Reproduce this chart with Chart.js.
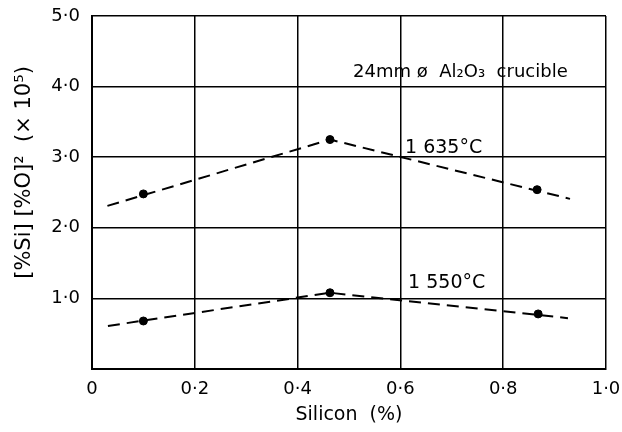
<!DOCTYPE html>
<html lang="en">
<head>
<meta charset="UTF-8">
<title>Silicon vs [%Si][%O]^2</title>
<style>
  html, body { margin: 0; padding: 0; background: #fff; }
  #wrap { width: 622px; height: 432px; }
</style>
</head>
<body>
<div id="wrap"><canvas id="chart" width="622" height="432"></canvas></div>
<script src="https://cdn.jsdelivr.net/npm/chart.js"></script>
<script>
// measured points
const si1635 = [0.1, 0.463, 0.866];
const val1635 = [2.48, 3.25, 2.54];
const si1550 = [0.1, 0.463, 0.868];
const val1550 = [0.68, 1.08, 0.78];
// dashed fitted lines
const fitX1635 = [0.03, 0.463, 0.93];
const fitY1635 = [2.31, 3.25, 2.41];
const fitX1550 = [0.031, 0.463, 0.926];
const fitY1550 = [0.61, 1.08, 0.72];
// text notes inside the plot (data coords)
const notes = ['24mm ø  Al₂O₃  crucible', '1 635°C', '1 550°C'];
const noteX = [0.508, 0.609, 0.615];
const noteY = [4.2, 3.13, 1.22];

function pts(xs, ys) {
  return xs.map((x, i) => ({ x: x, y: ys[i] }));
}
function fmt(v) {
  return v.toFixed(1).replace('.', '·');
}

const FONT = 'DejaVu Sans, Arial, sans-serif';

const notePlugin = {
  id: 'notes',
  afterDatasetsDraw(chart) {
    const ctx = chart.ctx;
    const xs = chart.scales.x, ys = chart.scales.y;
    ctx.save();
    ctx.fillStyle = '#000';
    ctx.textBaseline = 'middle';
    ctx.textAlign = 'left';
    notes.forEach((t, i) => {
      ctx.font = (i === 0 ? '18px ' : '19px ') + FONT;
      ctx.fillText(t, xs.getPixelForValue(noteX[i]), ys.getPixelForValue(noteY[i]));
    });
    ctx.restore();
  }
};

const lineStyle = { borderColor: '#000', borderWidth: 2, borderDash: [12, 7], pointRadius: 0, showLine: true, fill: false, tension: 0 };
const dotStyle = { backgroundColor: '#000', borderColor: '#000', pointRadius: 4, showLine: false };

new Chart(document.getElementById('chart'), {
  type: 'scatter',
  data: {
    datasets: [
      Object.assign({ label: 'fit 1635', data: pts(fitX1635, fitY1635) }, lineStyle),
      Object.assign({ label: 'fit 1550', data: pts(fitX1550, fitY1550) }, lineStyle),
      Object.assign({ label: '1635', data: pts(si1635, val1635) }, dotStyle),
      Object.assign({ label: '1550', data: pts(si1550, val1550) }, dotStyle)
    ]
  },
  options: {
    responsive: false,
    animation: false,
    layout: { padding: { top: 16, right: 16, left: 0, bottom: 0 } },
    plugins: { legend: { display: false }, tooltip: { enabled: false } },
    scales: {
      x: {
        type: 'linear', min: 0, max: 1,
        afterFit(s) { s.height = 63; s.paddingLeft = 0; s.paddingRight = 0; },
        ticks: { stepSize: 0.2, color: '#000', padding: 10, font: { family: FONT, size: 18 },
          callback: v => v === 0 ? '0' : fmt(v) },
        grid: { color: '#000', lineWidth: 1.5, drawTicks: false },
        border: { color: '#000', width: 2 },
        title: { display: true, text: 'Silicon  (%)', color: '#000', font: { family: FONT, size: 19 }, padding: { top: 0, bottom: 6 } }
      },
      y: {
        type: 'linear', min: 0, max: 5,
        afterFit(s) { s.width = 92; s.paddingTop = 0; s.paddingBottom = 0; },
        ticks: { stepSize: 1, color: '#000', padding: 12, font: { family: FONT, size: 18 },
          callback: v => v === 0 ? '' : fmt(v) },
        grid: { color: '#000', lineWidth: 1.5, drawTicks: false },
        border: { color: '#000', width: 2 },
        title: { display: true, text: '\u00a0\u00a0\u00a0\u00a0\u00a0\u00a0[%Si] [%O]²  (× 10⁵)', color: '#000', font: { family: FONT, size: 21 }, padding: { top: 12, bottom: 0 } }
      }
    }
  },
  plugins: [notePlugin]
});
</script>
</body>
</html>
